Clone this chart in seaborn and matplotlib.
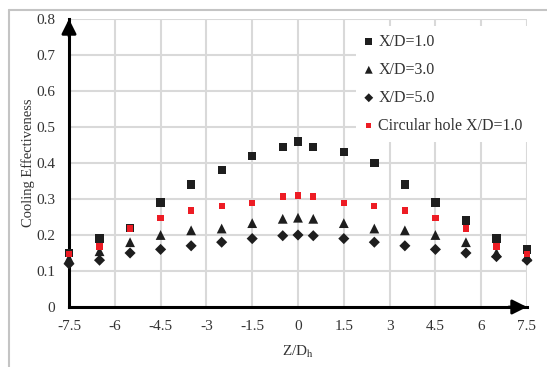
import matplotlib
matplotlib.use("Agg")
import matplotlib.pyplot as plt
import seaborn as sns
import pandas as pd
from matplotlib.ticker import MultipleLocator, FixedLocator, FixedFormatter
from matplotlib.lines import Line2D

# ---- data ----
z = [-7.5, -6.5, -5.5, -4.5, -3.5, -2.5, -1.5, -0.5, 0, 0.5, 1.5, 2.5, 3.5, 4.5, 5.5, 6.5, 7.5]
xd1 = [0.15, 0.19, 0.22, 0.29, 0.34, 0.38, 0.42, 0.445, 0.46, 0.445, 0.43, 0.40, 0.34, 0.29, 0.24, 0.19, 0.16]
xd3 = [0.135, 0.155, 0.18, 0.20, 0.213, 0.218, 0.233, 0.245, 0.248, 0.245, 0.233, 0.218, 0.213, 0.20, 0.18, 0.15, 0.14]
xd5 = [0.12, 0.13, 0.15, 0.16, 0.17, 0.18, 0.19, 0.198, 0.20, 0.198, 0.19, 0.18, 0.17, 0.16, 0.15, 0.14, 0.13]
circ = [0.148, 0.168, 0.218, 0.248, 0.268, 0.28, 0.288, 0.307, 0.31, 0.307, 0.288, 0.28, 0.268, 0.248, 0.218, 0.168, 0.148]
series_labels = ["X/D=1.0", "X/D=3.0", "X/D=5.0", "Circular hole X/D=1.0"]
x_ticks = [-7.5, -6, -4.5, -3, -1.5, 0, 1.5, 3, 4.5, 6, 7.5]
x_tick_labels = ["-7.5", "-6", "-4.5", "-3", "-1.5", "0", "1.5", "3", "4.5", "6", "7.5"]
y_ticks = [0, 0.1, 0.2, 0.3, 0.4, 0.5, 0.6, 0.7, 0.8]
y_tick_labels = ["0", "0.1", "0.2", "0.3", "0.4", "0.5", "0.6", "0.7", "0.8"]

sns.set_style("white")
plt.rcParams["font.family"] = ["Liberation Serif", "DejaVu Serif"]
plt.rcParams["mathtext.fontset"] = "stix"

W, H = 547, 367
fig = plt.figure(figsize=(W / 100, H / 100), dpi=100)
ax = fig.add_axes([69 / W, 1 - 307 / H, (527 - 69) / W, (307 - 19) / H])

styles = [
    (xd1, "s", 36, "#1e1e1e"),
    (xd3, "^", 50, "#1e1e1e"),
    (xd5, "D", 32, "#1e1e1e"),
    (circ, "s", 20, "#ED1C24"),
]
for (vals, m, s, c), lab in zip(styles, series_labels):
    df = pd.DataFrame({"z": z, "v": vals})
    sns.scatterplot(data=df, x="z", y="v", marker=m, s=s, color=c, edgecolor="none",
                    linewidth=0, label=lab, clip_on=False, zorder=4, ax=ax, legend=False)

ax.set_xlim(-7.5, 7.5)
ax.set_ylim(0, 0.8)
ax.xaxis.set_major_locator(FixedLocator(x_ticks))
ax.xaxis.set_major_formatter(FixedFormatter(x_tick_labels))
ax.yaxis.set_major_locator(FixedLocator(y_ticks))
ax.yaxis.set_major_formatter(FixedFormatter(y_tick_labels))
ax.xaxis.set_minor_locator(MultipleLocator(0.3))
ax.yaxis.set_minor_locator(MultipleLocator(0.02))
ax.grid(True, which="major", color="#d9d9d9", lw=1.5, zorder=0)
ax.set_axisbelow(True)

for sp in ["top", "right"]:
    ax.spines[sp].set_visible(False)
for sp in ["left", "bottom"]:
    ax.spines[sp].set_color("black")
    ax.spines[sp].set_linewidth(2.2)

ax.tick_params(which="both", direction="in", color="black", width=1.3,
               labelsize=11, labelcolor="#333333")
ax.tick_params(which="major", length=4, pad=10)
ax.tick_params(which="minor", length=3)
ax.tick_params(axis="x", which="major", pad=9)

# axis arrows
ax.annotate("", xy=(1, 0), xytext=(0.96, 0), xycoords="axes fraction",
            arrowprops=dict(arrowstyle="-|>", mutation_scale=22, color="black", lw=2,
                            shrinkA=0, shrinkB=0), zorder=5)
ax.annotate("", xy=(0, 1.0), xytext=(0, 0.94), xycoords="axes fraction",
            arrowprops=dict(arrowstyle="-|>", mutation_scale=22, color="black", lw=2,
                            shrinkA=0, shrinkB=0), zorder=5)

ax.set_xlabel("Z/D$_\\mathrm{h}$", fontsize=11, color="#333333", labelpad=8)
ax.set_ylabel("Cooling Effectiveness", fontsize=10.5, color="#333333", labelpad=1)

leg = ax.legend(loc="upper left", bbox_to_anchor=(356 / W, 1 - 26 / H),
                bbox_transform=fig.transFigure, frameon=True, fancybox=False,
                facecolor="white", edgecolor="none", framealpha=1,
                fontsize=11.5, markerscale=0.8, handlelength=0.6, handletextpad=0.3,
                labelspacing=0.75, borderpad=0.5, borderaxespad=0)
for t in leg.get_texts():
    t.set_color("#333333")
leg.set_zorder(6)

# outer chart border (top and left)
fig.add_artist(Line2D([9 / W, 1], [1 - 10 / H, 1 - 10 / H], transform=fig.transFigure,
                      color="#c4c4c4", lw=1.5))
fig.add_artist(Line2D([9 / W, 9 / W], [0, 1 - 10 / H], transform=fig.transFigure,
                      color="#c4c4c4", lw=1.5))

fig.savefig("out.png", dpi=100, facecolor="white")
